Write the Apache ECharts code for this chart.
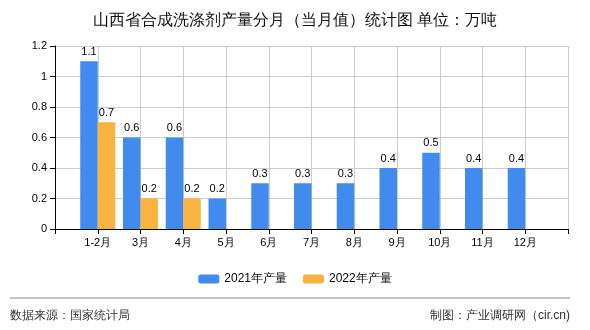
<!DOCTYPE html>
<html><head><meta charset="utf-8">
<script src="https://cdn.jsdelivr.net/npm/echarts@6/dist/echarts.min.js"></script>
<style>html,body{margin:0;padding:0;background:#fff}#c{width:590px;height:330px}</style>
</head><body><div id="c"></div>
<script>
const categories = ['1-2月','3月','4月','5月','6月','7月','8月','9月','10月','11月','12月'];
const series2021 = [1.1,0.6,0.6,0.2,0.3,0.3,0.3,0.4,0.5,0.4,0.4];
const series2022 = [0.7,0.2,0.2,null,null,null,null,null,null,null,null];
const yTicks = [0,0.2,0.4,0.6,0.8,1,1.2];

const xData = [''].concat(categories, ['']);
const pad = a => [null].concat(a, [null]);
const font = 'sans-serif';
const chart = echarts.init(document.getElementById('c'));
chart.setOption({
  animation:false,
  title:{text:'山西省合成洗涤剂产量分月（当月值）统计图 单位：万吨',left:'center',top:8,
    textStyle:{fontSize:16,fontWeight:'normal',color:'#111',fontFamily:font}},
  grid:{left:55,right:22,top:46,bottom:101},
  legend:{bottom:40,left:'center',itemWidth:21,itemHeight:9,itemGap:16,
    textStyle:{fontSize:12,color:'#000',fontFamily:font},
    data:['2021年产量','2022年产量']},
  xAxis:{type:'category',data:xData,boundaryGap:false,
    axisLine:{lineStyle:{color:'#000'}},
    axisTick:{show:true,interval:0,length:5,lineStyle:{color:'#000'}},
    axisLabel:{interval:0,color:'#000',fontSize:11,fontFamily:font,margin:8},
    splitLine:{show:true,interval:0,lineStyle:{color:'#ccc'}}},
  yAxis:{type:'value',min:yTicks[0],max:yTicks[yTicks.length-1],interval:0.2,
    axisLine:{show:true,lineStyle:{color:'#000'}},
    axisTick:{show:true,length:5,lineStyle:{color:'#000'}},
    axisLabel:{color:'#000',fontSize:11,fontFamily:font,margin:8},
    splitLine:{lineStyle:{color:'#ccc'}}},
  series:[
    {name:'2021年产量',type:'bar',data:pad(series2021),barWidth:17.5,barGap:'0%',
     itemStyle:{color:'#418BEE'},
     label:{show:true,position:'top',color:'#000',fontSize:11,fontFamily:font,distance:4}},
    {name:'2022年产量',type:'bar',data:pad(series2022),barWidth:17.5,barGap:'0%',
     itemStyle:{color:'#FBB33F'},
     label:{show:true,position:'top',color:'#000',fontSize:11,fontFamily:font,distance:4}}
  ],
  graphic:[
    {type:'line',shape:{x1:10,y1:298,x2:570,y2:298},style:{stroke:'#888',lineWidth:1}},
    {type:'text',left:10,top:310,style:{text:'数据来源：国家统计局',fill:'#333',font:'12px '+font}},
    {type:'text',right:20,top:310,style:{text:'制图：产业调研网（cir.cn)',fill:'#333',font:'12px '+font}}
  ]
});
</script></body></html>
